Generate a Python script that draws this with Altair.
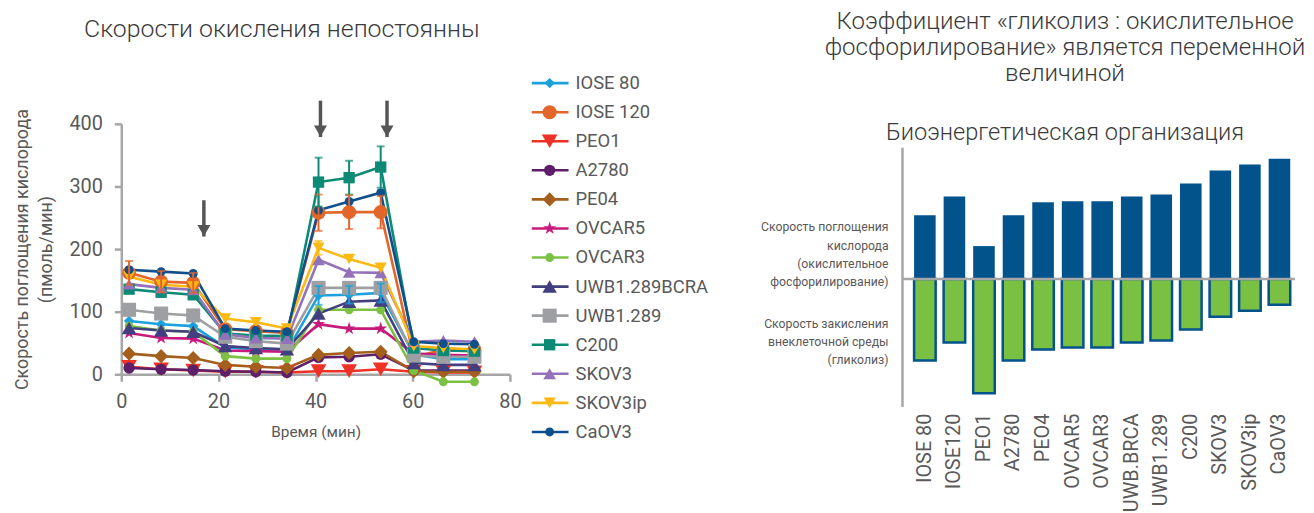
import altair as alt
import pandas as pd

# ---------------- left chart data ----------------
series = ["IOSE 80", "IOSE 120", "PEO1", "A2780", "PE04", "OVCAR5", "OVCAR3",
          "UWB1.289BCRA", "UWB1.289", "C200", "SKOV3", "SKOV3ip", "CaOV3"]
colors = ["#1ba1de", "#e2652a", "#ee3124", "#5e1f69", "#a55f1d", "#c81a7c", "#7cc143",
          "#423f80", "#9d9fa2", "#0d8a75", "#9472ba", "#fdb913", "#0e4f8c"]
star = ("M0,-1L0.2245,-0.309L0.951,-0.309L0.363,0.118L0.588,0.809L0,0.382"
        "L-0.588,0.809L-0.363,0.118L-0.951,-0.309L-0.2245,-0.309Z")
shapes = ["diamond", "circle", "triangle-down", "circle", "diamond", star, "circle",
          "triangle-up", "square", "square", "triangle-up", "triangle-down", "circle"]
sizes = [110, 200, 250, 130, 200, 190, 80, 210, 200, 130, 160, 150, 80]

times = [1.6, 8.2, 14.8, 21.4, 27.7, 34.1, 40.6, 46.9, 53.4, 60.2, 66.3, 72.7]

iose80 = [85, 80, 77, 43, 40, 37, 126, 127, 130, 32, 24, 24]
iose120 = [162, 148, 146, 72, 69, 66, 258, 259, 259, 28, 39, 39]
peo1 = [12, 8, 6, 4, 4, 3, 5, 5, 8, 4, 3, 3]
a2780 = [10, 8, 7, 5, 4, 3, 27, 28, 32, 6, 6, 6]
pe04 = [33, 29, 26, 15, 12, 10, 31, 34, 36, 5, 4, 4]
ovcar5 = [66, 58, 57, 38, 37, 36, 80, 73, 73, 33, 31, 30]
ovcar3 = [77, 70, 68, 29, 25, 25, 103, 103, 103, 6, -12, -12]
uwb_brca = [74, 70, 68, 45, 42, 40, 97, 116, 118, 18, 15, 15]
uwb1289 = [103, 97, 94, 60, 53, 49, 138, 138, 138, 30, 28, 28]
c200 = [136, 131, 127, 65, 62, 61, 307, 314, 331, 42, 38, 37]
skov3 = [144, 138, 135, 64, 58, 57, 183, 163, 162, 52, 54, 52]
skov3ip = [156, 143, 140, 89, 83, 73, 202, 184, 170, 45, 42, 40]
caov3 = [167, 164, 161, 73, 70, 68, 262, 276, 290, 52, 49, 48]

err_iose80 = [0, 0, 0, 0, 0, 0, 15, 14, 15, 0, 0, 0]
err_iose120 = [19, 17, 16, 0, 0, 0, 29, 27, 26, 0, 0, 0]
err_c200 = [0, 0, 0, 0, 0, 0, 39, 27, 33, 0, 0, 0]
err_skov3ip = [0, 0, 0, 0, 0, 0, 11, 0, 0, 0, 0, 0]
zero_err = [0] * 12

all_vals = [iose80, iose120, peo1, a2780, pe04, ovcar5, ovcar3,
            uwb_brca, uwb1289, c200, skov3, skov3ip, caov3]
all_errs = [err_iose80, err_iose120, zero_err, zero_err, zero_err, zero_err, zero_err,
            zero_err, zero_err, err_c200, zero_err, err_skov3ip, zero_err]

arrow_x = [17.0, 41.0, 54.7]
arrow_top = [278, 437, 437]
arrow_tip = [220, 379, 379]

# ---------------- right chart data ----------------
cell_lines = ["IOSE 80", "IOSE120", "PEO1", "A2780", "PEO4", "OVCAR5", "OVCAR3",
              "UWB.BRCA", "UWB1.289", "C200", "SKOV3", "SKOV3ip", "CaOV3"]
ocr = [64, 83, 33, 64, 77, 78, 78, 83, 85, 96, 109, 115, 121]
ecar = [-82, -64, -115, -82, -71, -69, -69, -64, -62, -51, -38, -32, -26]
side_labels = ["Скорость поглощения\nкислорода\n(окислительное\nфосфорилирование)",
               "Скорость закисления\nвнеклеточной среды\n(гликолиз)"]
side_label_y = [52, -45]
axis_top = [132]
axis_bottom = [-129]
zero_level = [0]

FONT = "Roboto"
GREY = "#595959"
AXC = "#a6a6a6"
TITLE_C = "#3a3a3a"

rows = []
for s, vals, errs in zip(series, all_vals, all_errs):
    for t, v, e in zip(times, vals, errs):
        rows.append({"series": s, "t": t, "v": v, "lo": v - e, "hi": v + e, "e": e})
df = pd.DataFrame(rows)
err_df = df[df["e"] > 0]
cap_df = pd.concat([
    err_df[["series", "t", "lo"]].rename(columns={"lo": "cap"}),
    err_df[["series", "t", "hi"]].rename(columns={"hi": "cap"}),
])
arrow_df = pd.DataFrame({"x": arrow_x, "top": arrow_top, "tip": arrow_tip})

color = alt.Color("series:N", scale=alt.Scale(domain=series, range=colors), legend=None)
shape = alt.Shape("series:N", scale=alt.Scale(domain=series, range=shapes), legend=None)
size = alt.Size("series:N", scale=alt.Scale(type="ordinal", domain=series, range=sizes),
                legend=None)

xs = alt.Scale(domain=[0, 80], nice=False)
ys = alt.Scale(domain=[0, 400], nice=False)
x = alt.X("t:Q", scale=xs, axis=alt.Axis(values=[0, 20, 40, 60, 80], title="Время (мин)",
                                         grid=False, labelFontSize=20, labelPadding=10,
                                         labelFlush=False, tickSize=7, titleFontSize=15.5,
                                         titlePadding=14, titleFontWeight="normal",
                                         titleColor=GREY))
y = alt.Y("v:Q", scale=ys, axis=alt.Axis(values=[0, 100, 200, 300, 400],
                                         title=["Скорость поглощения кислорода", "(пмоль/мин)"],
                                         grid=False, labelFontSize=20, labelPadding=12,
                                         tickSize=7, titleFontSize=18, titlePadding=14,
                                         titleLineHeight=24, titleFontWeight="normal",
                                         titleColor=GREY))

base = alt.Chart(df)
lines = base.mark_line(strokeWidth=2.6).encode(x=x, y=y, color=color, order="t:Q")
points = base.mark_point(filled=True, opacity=1).encode(x=x, y=y, color=color, shape=shape, size=size)
ebar = alt.Chart(err_df).mark_rule(strokeWidth=2).encode(
    x="t:Q", y="lo:Q", y2="hi:Q", color=color)
ecap = alt.Chart(cap_df).mark_tick(orient="horizontal", size=8, thickness=2).encode(
    x="t:Q", y="cap:Q", color=color)
arrow_shaft = alt.Chart(arrow_df).mark_rule(strokeWidth=3.5, color="#555555").encode(
    x="x:Q", y="top:Q", y2="tip:Q")
arrow_head = alt.Chart(arrow_df).mark_point(shape="triangle-down", filled=True, opacity=1,
                                             size=170, color="#555555", yOffset=-6).encode(
    x="x:Q", y="tip:Q")

left = alt.layer(lines, points, ebar, ecap, arrow_shaft, arrow_head).properties(
    width=391, height=252,
    title=alt.Title("Скорости окисления непостоянны", fontSize=25, fontWeight=300, font=FONT,
                    color=TITLE_C, anchor="middle", dx=-34, offset=57),
)

# legend panel
leg_df = pd.DataFrame({"series": series})
ly = alt.Y("series:N", scale=alt.Scale(type="point", domain=series, range=[-41, 310], padding=0),
           axis=None)
leg_rule = alt.Chart(leg_df).mark_rule(strokeWidth=2.6).encode(
    x=alt.value(0), x2=alt.value(37), y=ly, color=color)
leg_pts = alt.Chart(leg_df).mark_point(filled=True, opacity=1).encode(
    x=alt.value(18), y=ly, color=color, shape=shape, size=size)
leg_txt = alt.Chart(leg_df).mark_text(align="left", baseline="middle", fontSize=18.5,
                                      font=FONT, color=GREY).encode(
    x=alt.value(44), y=ly, text="series:N")
legend = alt.layer(leg_rule, leg_pts, leg_txt).properties(width=222, height=252)

# right panel
bar_df = pd.DataFrame({"name": cell_lines, "ocr": ocr, "ecar": ecar})
lab_df = pd.DataFrame({"lab": side_labels, "ypos": side_label_y})
zero_df = pd.DataFrame({"z": zero_level})
yax_df = pd.DataFrame({"top": axis_top, "bottom": axis_bottom})
rys = alt.Scale(domain=[-129, 156], nice=False)
bx = alt.X("name:N", sort=cell_lines,
           scale=alt.Scale(paddingInner=0.27, paddingOuter=0.278, align=0.706),
           axis=alt.Axis(title=None, labelAngle=270, domain=False, ticks=False,
                         labelFontSize=20, labelColor=GREY, labelPadding=6, labelFont=FONT))
blue = alt.Chart(bar_df).mark_bar(color="#02528c").encode(
    x=bx, y=alt.Y("ocr:Q", scale=rys, axis=None))
green = alt.Chart(bar_df).mark_bar(color="#7ac143", stroke="#02528c", strokeWidth=2.5).encode(
    x=bx, y=alt.Y("ecar:Q", scale=rys, axis=None))
zero_line = alt.Chart(zero_df).mark_rule(color=AXC, strokeWidth=2.5).encode(
    y=alt.Y("z:Q", scale=rys, axis=None))
y_line = alt.Chart(yax_df).mark_rule(color=AXC, strokeWidth=2.5).encode(
    x=alt.value(0), y=alt.Y("top:Q", scale=rys, axis=None), y2="bottom:Q")
side_txt = alt.Chart(lab_df).mark_text(align="right", baseline="middle", lineBreak="\n",
                                       fontSize=12.3, lineHeight=18.5, font=FONT,
                                       color=GREY).encode(
    x=alt.value(-14), y=alt.Y("ypos:Q", scale=rys, axis=None), text="lab:N")

right = alt.layer(blue, green, zero_line, y_line, side_txt).properties(
    width=395, height=285,
    title=alt.Title(["Коэффициент «гликолиз : окислительное",
                     "фосфорилирование» является переменной", "величиной"],
                    subtitle="Биоэнергетическая организация",
                    fontSize=24.2, fontWeight=300, font=FONT, color=TITLE_C, lineHeight=26.5,
                    subtitleFontSize=23.7, subtitleFontWeight=300, subtitleFont=FONT,
                    subtitleColor=TITLE_C, subtitlePadding=35, anchor="middle",
                    dx=-34, offset=-21),
)

chart = alt.hconcat(left, legend, right, spacing=8).properties(
    padding={"left": 5, "top": 0, "right": 0, "bottom": 0}
).configure_view(stroke=None).configure_axis(
    labelFont=FONT, titleFont=FONT, labelColor=GREY, domainColor=AXC, tickColor=AXC,
    domainWidth=2.5, tickWidth=2.5
)

chart.save("out.html", embed_options={"renderer": "svg", "actions": False})
